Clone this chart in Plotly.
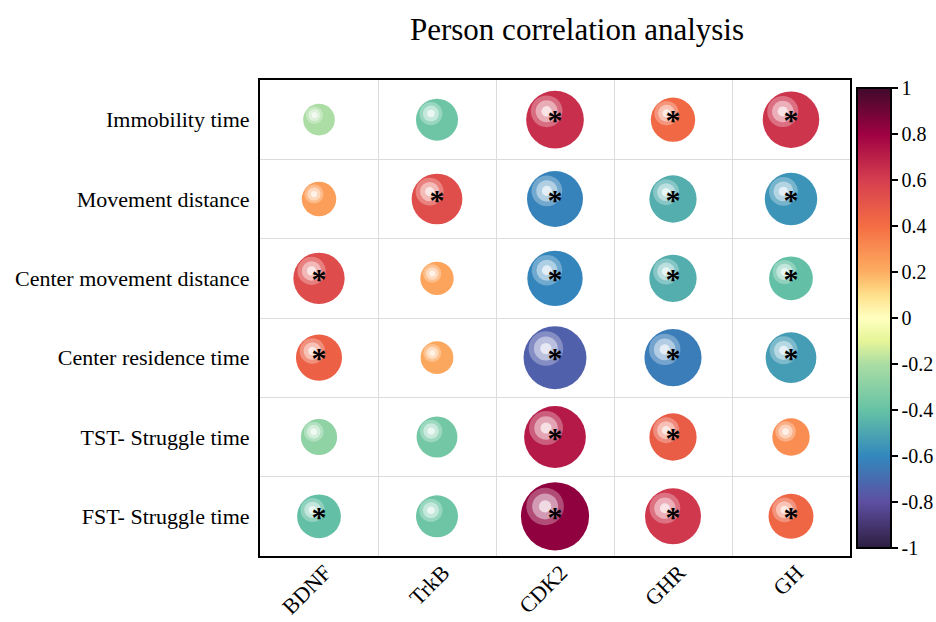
import plotly.graph_objects as go

# Correlation matrix: behavioural measures (rows) vs. gene/protein levels (columns)
genes = ["BDNF", "TrkB", "CDK2", "GHR", "GH"]
measures = [
    "Immobility time",
    "Movement distance",
    "Center movement distance",
    "Center residence time",
    "TST- Struggle time",
    "FST- Struggle time",
]

r_immobility = [-0.20, -0.38, 0.65, 0.42, 0.63]
r_movement = [0.25, 0.53, -0.62, -0.47, -0.56]
r_center_move = [0.54, 0.23, -0.61, -0.47, -0.41]
r_center_res = [0.45, 0.22, -0.74, -0.64, -0.53]
r_tst = [-0.28, -0.36, 0.72, 0.47, 0.30]
r_fst = [-0.41, -0.38, 0.83, 0.62, 0.43]

# significance flags (1 = p < 0.05)
sig_immobility = [0, 0, 1, 1, 1]
sig_movement = [0, 1, 1, 1, 1]
sig_center_move = [1, 0, 1, 1, 1]
sig_center_res = [1, 0, 1, 1, 1]
sig_tst = [0, 0, 1, 1, 0]
sig_fst = [1, 0, 1, 1, 1]

corr_rows = [r_immobility, r_movement, r_center_move, r_center_res, r_tst, r_fst]
sig_rows = [sig_immobility, sig_movement, sig_center_move, sig_center_res, sig_tst, sig_fst]

cbar_ticks = [1, 0.8, 0.6, 0.4, 0.2, 0, -0.2, -0.4, -0.6, -0.8, -1]

# Spectral-style diverging scale with darkened ends
scale_stops = [
    (-1.0, "#2c1e3f"), (-0.8, "#5e4fa2"), (-0.6, "#3288bd"), (-0.4, "#66c2a5"),
    (-0.2, "#abdda4"), (-0.1, "#e6f598"), (0.0, "#ffffbf"), (0.1, "#fee08b"),
    (0.2, "#fdae61"), (0.4, "#f46d43"), (0.6, "#d53e4f"), (0.8, "#9e0142"),
    (1.0, "#3f0a2b"),
]
colorscale = [[(v + 1) / 2, c] for v, c in scale_stops]


def hex_rgb(h):
    h = h.lstrip("#")
    return tuple(int(h[i:i + 2], 16) for i in (0, 2, 4))


def value_rgb(v):
    for (v0, c0), (v1, c1) in zip(scale_stops[:-1], scale_stops[1:]):
        if v0 <= v <= v1:
            t = (v - v0) / (v1 - v0)
            a, b = hex_rgb(c0), hex_rgb(c1)
            return tuple(a[i] + (b[i] - a[i]) * t for i in range(3))
    return hex_rgb(scale_stops[-1][1])


def tint(rgb, w):
    r, g, b = (c + (255 - c) * w for c in rgb)
    return f"rgb({r:.0f},{g:.0f},{b:.0f})"


W, H = 936, 622
ML, MR, MT, MB = 260, 86, 80, 66
px_x = (W - ML - MR) / len(genes)
px_y = (H - MT - MB) / len(measures)

xs, ys, vals, radii = [], [], [], []
for i, row in enumerate(corr_rows):
    for j, v in enumerate(row):
        xs.append(j)
        ys.append(i)
        vals.append(v)
        radii.append(10 + 29 * abs(v))

fig = go.Figure()

# base spheres coloured through the colour scale
fig.add_trace(go.Scatter(
    x=xs, y=ys, mode="markers", hoverinfo="skip",
    marker=dict(
        size=[2 * r for r in radii], color=vals, colorscale=colorscale,
        cmin=-1, cmax=1, opacity=1, line=dict(width=0),
        colorbar=dict(
            x=1 + 7 / (W - ML - MR), xanchor="left", xpad=0, ypad=0,
            y=0.5, yanchor="middle", len=460, lenmode="pixels",
            thickness=34, outlinewidth=2, outlinecolor="black",
            tickmode="array", tickvals=cbar_ticks,
            ticktext=[f"{t:g}" for t in cbar_ticks],
            ticks="outside", ticklen=6, tickwidth=2, tickcolor="black",
            tickfont=dict(family="Liberation Serif", size=20, color="black"),
        ),
    ),
    showlegend=False,
))

# glossy highlight rings, offset towards the upper left
highlight_layers = [(0.55, 0.42), (0.38, 0.74), (0.18, 0.97)]
for frac, w in highlight_layers:
    hx, hy, hs, hc = [], [], [], []
    for x, y, v, r in zip(xs, ys, vals, radii):
        hx.append(x - 0.29 * r / px_x)
        hy.append(y - 0.29 * r / px_y)
        hs.append(2 * r * frac)
        hc.append(tint(value_rgb(v), w))
    fig.add_trace(go.Scatter(
        x=hx, y=hy, mode="markers", hoverinfo="skip", showlegend=False,
        marker=dict(size=hs, color=hc, line=dict(width=0)),
    ))

# significance stars
sx, sy = [], []
for i, row in enumerate(sig_rows):
    for j, s in enumerate(row):
        if s:
            sx.append(j)
            sy.append(i + 3 / px_y)
fig.add_trace(go.Scatter(
    x=sx, y=sy, mode="text", text=["<b>*</b>"] * len(sx), textposition="middle center",
    textfont=dict(family="Liberation Serif", size=30, color="black"),
    hoverinfo="skip", showlegend=False,
))

axis_font = dict(family="Liberation Serif", size=22, color="black")
fig.update_layout(
    width=W, height=H,
    margin=dict(l=ML, r=MR, t=MT, b=MB, autoexpand=False),
    paper_bgcolor="white", plot_bgcolor="white",
    title=dict(
        text="Person correlation analysis", x=(577 - ML) / (W - ML - MR),
        xref="paper", xanchor="center", y=1 - 29 / H, yref="container",
        yanchor="middle", font=dict(family="Liberation Serif", size=31, color="black"),
    ),
    xaxis=dict(
        range=[-0.5, len(genes) - 0.5], tickmode="array",
        tickvals=list(range(len(genes))), ticktext=genes, tickangle=-45,
        tickfont=axis_font, showgrid=False, zeroline=False, ticks="",
        automargin=False, ticklabelstandoff=-7, ticklabelshift=6,
        showline=True, mirror=True, linecolor="black", linewidth=2,
        minor=dict(tickmode="array", tickvals=[k + 0.5 for k in range(len(genes) - 1)],
                   showgrid=True, gridcolor="#dcdcdc", gridwidth=1, ticks=""),
    ),
    yaxis=dict(
        range=[len(measures) - 0.5, -0.5], tickmode="array",
        tickvals=list(range(len(measures))), ticktext=measures,
        tickfont=axis_font, showgrid=False, zeroline=False, ticks="",
        automargin=False, ticklabelstandoff=4,
        showline=True, mirror=True, linecolor="black", linewidth=2,
        minor=dict(tickmode="array", tickvals=[k + 0.5 for k in range(len(measures) - 1)],
                   showgrid=True, gridcolor="#dcdcdc", gridwidth=1, ticks=""),
    ),
)

fig.write_html("out.html")
